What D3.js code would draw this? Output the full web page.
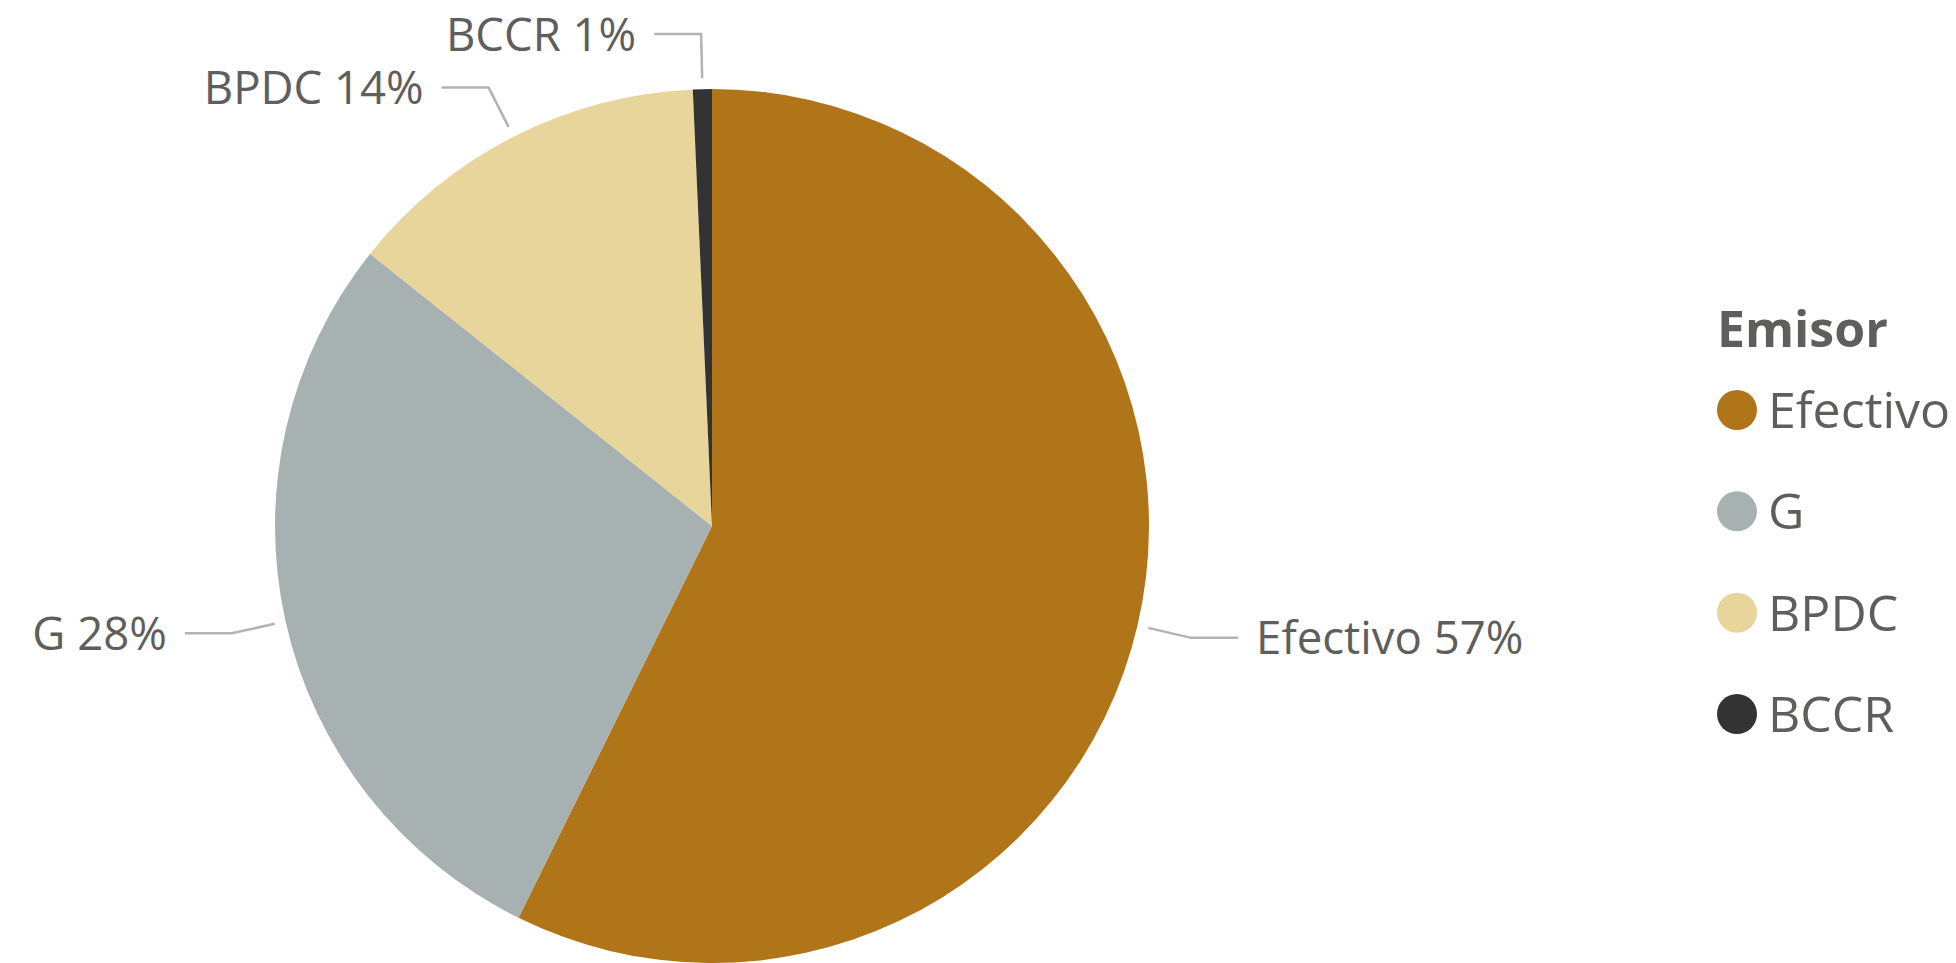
<!DOCTYPE html>
<html>
<head>
<meta charset="utf-8">
<script src="https://cdn.jsdelivr.net/npm/d3@7"></script>
<style>
    body { margin: 0; background: #ffffff; }
    svg { display: block; }
</style>
</head>
<body>
<svg></svg>
<script>
const WIDTH = 1956;
const HEIGHT = 963;

// values (share of total)
const categories = ["Efectivo", "G", "BPDC", "BCCR"];
const values = [57.3, 28.4, 13.6, 0.7];
const sliceColors = ["#B07519", "#A7B1B2", "#E8D59B", "#333333"];
const legendTitle = "Emisor";

const TEXT_COLOR = "#605E5C";
const LINE_COLOR = "#B3B3B3";
const FONT = "'Segoe UI', 'Open Sans', sans-serif";

function drawChart(svg) {
    svg.attr("width", WIDTH).attr("height", HEIGHT);

    const cx = 712, cy = 526, radius = 437;
    const total = d3.sum(values);

    const color = d3.scaleOrdinal().domain(categories).range(sliceColors);

    const pie = d3.pie()
        .sort(null)
        .value(d => d.value);

    const arcs = pie(categories.map((c, i) => ({ name: c, value: values[i] })));

    const arc = d3.arc().innerRadius(0).outerRadius(radius);
    const lineStart = d3.arc().innerRadius(radius + 11).outerRadius(radius + 11);
    const elbow = d3.arc().innerRadius(radius + 55).outerRadius(radius + 55);

    const g = svg.append("g")
        .attr("transform", `translate(${cx}, ${cy})`);

    g.selectAll("path.slice")
        .data(arcs)
        .enter().append("path")
        .attr("class", "slice")
        .attr("d", arc)
        .style("fill", d => color(d.data.name));

    const side = d => {
        const mid = (d.startAngle + d.endAngle) / 2;
        return mid < Math.PI ? 1 : -1;
    };

    g.selectAll("polyline.leader")
        .data(arcs)
        .enter().append("polyline")
        .attr("class", "leader")
        .attr("points", d => {
            const a = lineStart.centroid(d);
            const b = elbow.centroid(d);
            const c = [b[0] + side(d) * 47, b[1]];
            return [a, b, c].map(p => p.join(",")).join(" ");
        })
        .style("fill", "none")
        .style("stroke", LINE_COLOR)
        .style("stroke-width", "2.5px");

    g.selectAll("text.label")
        .data(arcs)
        .enter().append("text")
        .attr("class", "label")
        .attr("x", d => elbow.centroid(d)[0] + side(d) * (47 + 18))
        .attr("y", d => elbow.centroid(d)[1])
        .attr("dy", "0.36em")
        .attr("text-anchor", d => side(d) > 0 ? "start" : "end")
        .style("font-family", FONT)
        .style("font-size", "45.5px")
        .style("fill", TEXT_COLOR)
        .text(d => `${d.data.name} ${Math.round(d.data.value / total * 100)}%`);

    // legend
    const legend = svg.append("g")
        .attr("transform", "translate(1717, 0)");

    legend.append("text")
        .attr("x", 0)
        .attr("y", 347)
        .style("font-family", FONT)
        .style("font-size", "50px")
        .style("font-weight", "bold")
        .style("fill", TEXT_COLOR)
        .text(legendTitle);

    const rowY = d3.scalePoint()
        .domain(categories)
        .range([410, 714]);

    const item = legend.selectAll("g.item")
        .data(categories)
        .enter().append("g")
        .attr("class", "item")
        .attr("transform", d => `translate(0, ${rowY(d)})`);

    item.append("circle")
        .attr("cx", 20)
        .attr("cy", 0)
        .attr("r", 20)
        .style("fill", d => color(d));

    item.append("text")
        .attr("x", 51)
        .attr("y", 0)
        .attr("dy", "0.36em")
        .style("font-family", FONT)
        .style("font-size", "50px")
        .style("fill", TEXT_COLOR)
        .text(d => d);
}

document.addEventListener('DOMContentLoaded', () => {
    drawChart(d3.select('svg'));
});
</script>
</body>
</html>
